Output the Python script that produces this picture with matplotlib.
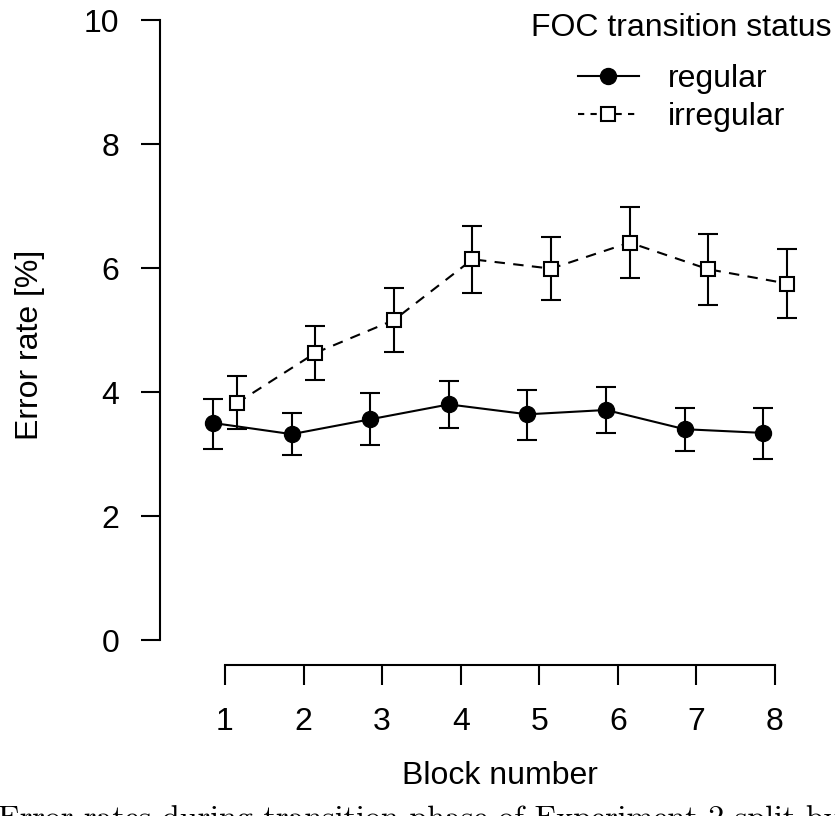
import numpy as np
import matplotlib
matplotlib.use("Agg")
import matplotlib.pyplot as plt
from matplotlib.lines import Line2D

plt.rcParams['font.family'] = ['Liberation Sans', 'DejaVu Sans']

# data
blocks = np.arange(1, 9)
reg_mean = [3.50, 3.32, 3.56, 3.80, 3.64, 3.71, 3.40, 3.34]
reg_lo = [3.08, 2.98, 3.14, 3.42, 3.23, 3.34, 3.05, 2.92]
reg_hi = [3.89, 3.66, 3.98, 4.18, 4.03, 4.08, 3.74, 3.74]
irr_mean = [3.82, 4.63, 5.16, 6.14, 5.99, 6.41, 5.98, 5.75]
irr_lo = [3.40, 4.19, 4.65, 5.59, 5.48, 5.84, 5.40, 5.19]
irr_hi = [4.26, 5.06, 5.68, 6.68, 6.50, 6.98, 6.55, 6.31]
yticks = [0, 2, 4, 6, 8, 10]
caption = "Error rates during transition phase of Experiment 2 split by FOC transition status."

fs = 23
lw = 1.5
off = 0.15

fig = plt.figure(figsize=(8.35, 8.16), dpi=100)
ax = fig.add_axes([160/835, 151/816, 660/835, 655/816])

ax.set_xlim(0.173, 8.573)
ax.set_ylim(-25/62, 10 + 10/62)

x_reg = blocks - off
x_irr = blocks + off
reg_err = [np.array(reg_mean) - np.array(reg_lo), np.array(reg_hi) - np.array(reg_mean)]
irr_err = [np.array(irr_mean) - np.array(irr_lo), np.array(irr_hi) - np.array(irr_mean)]

ax.errorbar(x_reg, reg_mean, yerr=reg_err, fmt='none', ecolor='black',
            elinewidth=lw, capsize=7.5, capthick=lw, zorder=2)
ax.errorbar(x_irr, irr_mean, yerr=irr_err, fmt='none', ecolor='black',
            elinewidth=lw, capsize=7.5, capthick=lw, zorder=2)
ax.plot(x_reg, reg_mean, color='black', lw=lw, marker='o', markersize=11.5,
        markerfacecolor='black', zorder=3)
ax.plot(x_irr, irr_mean, color='black', lw=lw, linestyle=(0, (5, 4)), marker='s',
        markersize=9.5, markerfacecolor='white', markeredgewidth=lw, zorder=3)

for s in ['top', 'right']:
    ax.spines[s].set_visible(False)
ax.spines['left'].set_bounds(0, 10)
ax.spines['bottom'].set_bounds(1, 8)
ax.spines['left'].set_linewidth(lw)
ax.spines['bottom'].set_linewidth(lw)

ax.set_xticks(blocks)
ax.set_yticks(yticks)
ax.tick_params(axis='y', direction='out', length=13.5, width=lw, labelsize=fs, pad=16)
ax.tick_params(axis='x', direction='out', length=14.4, width=lw, labelsize=fs, pad=16)

fig.text(500/835, 1 - 776/816, "Block number", fontsize=fs, ha='center', va='center')
fig.text(30/835, 1 - 345/816, "Error rate [%]", fontsize=fs, ha='center', va='center',
         rotation=90)

# legend: title drawn separately, entries below
fig.text(681/835, 1 - 28/816, "FOC transition status", fontsize=fs, ha='center', va='center')
handles = [
    Line2D([], [], color='black', lw=lw, marker='o', markersize=11.5, markerfacecolor='black'),
    Line2D([], [], color='black', lw=lw, linestyle=(0, (3, 3)), marker='s', markersize=9.5,
           markerfacecolor='white', markeredgewidth=lw),
]
leg = ax.legend(handles, ['regular', 'irregular'], frameon=False, fontsize=fs,
                loc='upper left', bbox_to_anchor=(578/835, 1 - 64/816),
                bbox_transform=fig.transFigure, borderpad=0, borderaxespad=0,
                handlelength=1.9, handletextpad=0.9, labelspacing=0.25)

# cut-off caption at the bottom edge
fig.text(-2/835, 1 - 805/816, caption, fontsize=23, family=['cmr10', 'DejaVu Serif'],
         ha='left', va='top')

fig.savefig("out.png", dpi=100)
